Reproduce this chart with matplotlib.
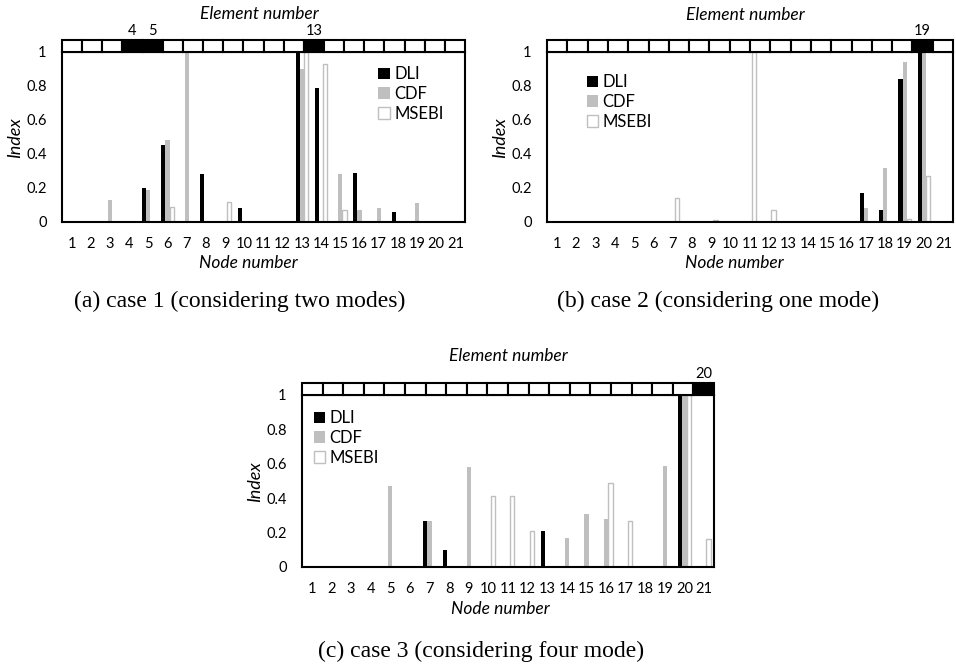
import numpy as np
import matplotlib
matplotlib.use('Agg')
import matplotlib.pyplot as plt
from matplotlib.patches import Rectangle

plt.rcParams['font.family'] = ['Lato', 'DejaVu Sans']

nodes = list(range(1, 22))

# case 1 (two modes)
dli_1 = [0, 0, 0, 0, 0.20, 0.45, 0, 0.28, 0, 0.08, 0, 0, 1.00, 0.79, 0, 0.29, 0, 0.06, 0, 0, 0]
cdf_1 = [0, 0, 0.13, 0, 0.19, 0.48, 1.00, 0, 0, 0, 0, 0, 0.90, 0, 0.28, 0.07, 0.08, 0, 0.11, 0, 0]
mse_1 = [0, 0, 0, 0, 0, 0.09, 0, 0, 0.12, 0, 0, 0, 1.00, 0.93, 0.07, 0, 0, 0, 0, 0, 0]
dmg_1 = [4, 5, 13]

# case 2 (one mode)
dli_2 = [0, 0, 0, 0, 0, 0, 0, 0, 0, 0, 0, 0, 0, 0, 0, 0, 0.17, 0.07, 0.84, 1.00, 0]
cdf_2 = [0, 0, 0, 0, 0, 0, 0, 0, 0, 0, 0, 0, 0, 0, 0, 0, 0.08, 0.32, 0.94, 1.00, 0]
mse_2 = [0, 0, 0, 0, 0, 0, 0.14, 0, 0.01, 0, 1.00, 0.07, 0, 0, 0, 0, 0, 0, 0.02, 0.27, 0]
dmg_2 = [19]

# case 3 (four modes)
dli_3 = [0, 0, 0, 0, 0, 0, 0.27, 0.10, 0, 0, 0, 0, 0.21, 0, 0, 0, 0, 0, 0, 1.00, 0]
cdf_3 = [0, 0, 0, 0, 0.47, 0, 0.27, 0, 0.58, 0, 0, 0, 0, 0.17, 0.31, 0.28, 0, 0, 0.59, 1.00, 0]
mse_3 = [0, 0, 0, 0, 0, 0, 0, 0, 0, 0.41, 0.41, 0.21, 0, 0, 0, 0.49, 0.27, 0, 0, 1.00, 0.16]
dmg_3 = [20]

n_elem = 20
W, H = 956, 664
GRAY = '#bfbfbf'

fig = plt.figure(figsize=(W / 100, H / 100), dpi=100)


def px(l, r, b, t):
    return [l / W, 1 - b / H, (r - l) / W, (b - t) / H]


def panel(l, r, b, t, strip_top, dli, cdf, mse, dmg, leg_xy):
    ax = fig.add_axes(px(l, r, b, t))
    x = np.array(nodes)
    w = 0.22
    ax.bar(x - w, dli, w, color='black', label='DLI', zorder=3)
    ax.bar(x, cdf, w, color=GRAY, label='CDF', zorder=3)
    ax.bar(x + w, mse, w, color='white', edgecolor=GRAY, linewidth=1.0,
           label='MSEBI', zorder=3)
    ax.set_xlim(0.5, 21.5)
    ax.set_ylim(0, 1)
    ax.set_xticks(nodes)
    ax.set_yticks([0, 0.2, 0.4, 0.6, 0.8, 1])
    ax.set_yticklabels(['0', '0.2', '0.4', '0.6', '0.8', '1'])
    ax.tick_params(length=0, labelsize=10.5, pad=11)
    ax.tick_params(axis='y', pad=11)
    for s in ax.spines.values():
        s.set_linewidth(1.5)
        s.set_zorder(4)
    ax.legend(loc='upper left', bbox_to_anchor=leg_xy, frameon=False,
              fontsize=12, handlelength=0.7, handleheight=0.7,
              handletextpad=0.25, labelspacing=0.22, borderpad=0,
              borderaxespad=0)

    # element strip above the plot
    sx = fig.add_axes(px(l, r, t, strip_top))
    sx.set_xlim(0, n_elem)
    sx.set_ylim(0, 1)
    sx.axis('off')
    for e in range(1, n_elem + 1):
        fc = 'black' if e in dmg else 'white'
        sx.add_patch(Rectangle((e - 1, 0), 1, 1, facecolor=fc,
                               edgecolor='black', linewidth=1.5, clip_on=False))
    for e in dmg:
        sx.text(e - 0.5, 1.15, str(e), ha='center', va='bottom', fontsize=10.5)
    return ax


panel(62, 465, 222, 52, 40, dli_1, cdf_1, mse_1, dmg_1, (0.785, 0.915))
panel(547, 953, 222, 52, 40, dli_2, cdf_2, mse_2, dmg_2, (0.098, 0.868))
panel(302, 714, 567, 395, 383, dli_3, cdf_3, mse_3, dmg_3, (0.028, 0.91))

it = dict(fontsize=12.5, style='italic', ha='center', va='center')
for ex, ey, nx, ny, ix, iy in [(259, 14, 248, 263, 15, 138),
                               (745, 15, 734, 263, 500, 138),
                               (508, 356, 500, 609, 255, 482)]:
    fig.text(ex / W, 1 - ey / H, 'Element number', **it)
    fig.text(nx / W, 1 - ny / H, 'Node number', **it)
    fig.text(ix / W, 1 - iy / H, 'Index', rotation=90,
             **dict(it, fontsize=13))

cap = dict(fontsize=17, family='Liberation Serif', ha='center', va='center')
fig.text(240 / W, 1 - 301 / H, '(a) case 1 (considering two modes)', **cap)
fig.text(718 / W, 1 - 301 / H, '(b) case 2 (considering one mode)', **cap)
fig.text(481 / W, 1 - 651 / H, '(c) case 3 (considering four mode)', **cap)

fig.savefig('out.png', dpi=100)
